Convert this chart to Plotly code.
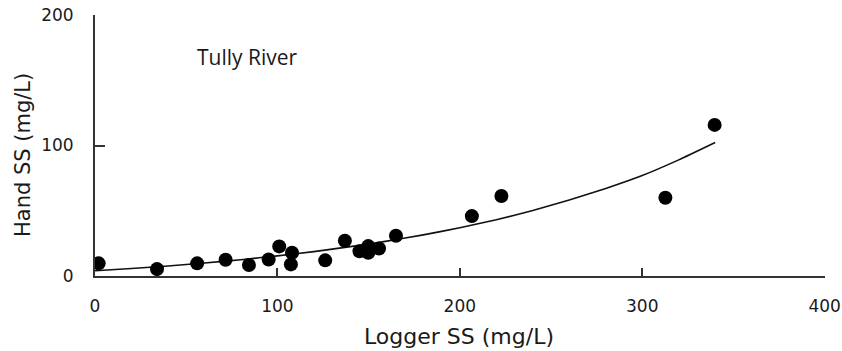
import plotly.graph_objects as go

# Observed data (Logger SS vs Hand SS, mg/L)
logger_ss = [2, 34, 56, 71.6, 84.4, 95.2, 101, 108, 107.4, 126.2, 137, 145, 149.8, 149.8,
             155.7, 165, 206.6, 222.8, 312.7, 339.7]
hand_ss = [9.7, 5.3, 9.7, 12.4, 8.4, 12.7, 22.7, 17.8, 8.9, 12, 27, 19, 22.9, 17.8,
           21.1, 30.8, 45.9, 61.3, 60, 115.8]

# Fitted trend curve
fit_x = [0, 20, 40, 60, 80, 100, 120, 140, 160, 180, 200, 220, 240, 260, 280, 300, 320, 340]
fit_y = [4.0, 5.8, 7.7, 10.0, 12.5, 15.4, 18.7, 22.5, 26.7, 31.5, 37.0, 43.1, 50.2,
         58.2, 67.1, 77.0, 89.0, 102.3]

x_ticks = [0, 100, 200, 300, 400]
y_ticks = [0, 100, 200]

axis_color = "#333333"
text_color = "#1a1a1a"
font_family = "DejaVu Sans, Liberation Sans, Arial, sans-serif"

W, H = 842, 351
L, R, T, B = 95, 17, 15, 75
PW, PH = W - L - R, H - T - B

fig = go.Figure()
fig.add_trace(go.Scatter(x=fit_x, y=fit_y, mode="lines",
                         line=dict(color="#111111", width=1.6, shape="spline", smoothing=0.5),
                         hoverinfo="skip", showlegend=False))
fig.add_trace(go.Scatter(x=logger_ss, y=hand_ss, mode="markers",
                         marker=dict(color="#000000", size=14),
                         showlegend=False))

fig.update_layout(
    width=W, height=H,
    margin=dict(l=L, r=R, t=T, b=B),
    paper_bgcolor="white", plot_bgcolor="white",
    font=dict(family=font_family, color=text_color, size=17),
    xaxis=dict(range=[0, 400.2], tickvals=x_ticks, showgrid=False, zeroline=False,
               showline=True, linecolor=axis_color, linewidth=2, automargin=False,
               ticks="inside", ticklen=8, tickwidth=1.5, tickcolor=axis_color,
               tickfont=dict(size=17, family=font_family, color=text_color),
               ticklabelstandoff=14, ticklabeloverflow="allow"),
    yaxis=dict(range=[0, 200], tickvals=y_ticks, showgrid=False, zeroline=False,
               showline=True, linecolor=axis_color, linewidth=2, automargin=False,
               ticks="inside", ticklen=10, tickwidth=1.5, tickcolor=axis_color,
               tickfont=dict(size=17, family=font_family, color=text_color),
               ticklabelstandoff=16, ticklabeloverflow="allow"),
    annotations=[
        dict(text="Tully River", x=54.8, y=168, xref="x", yref="y",
             xanchor="left", yanchor="middle", showarrow=False,
             font=dict(family="Open Sans, sans-serif", size=21, color=text_color)),
        dict(text="Logger SS (mg/L)", xref="paper", yref="paper",
             x=(459 - L) / PW, y=(H - B - 336) / PH,
             xanchor="center", yanchor="middle", showarrow=False,
             font=dict(size=22, family=font_family, color=text_color)),
        dict(text="Hand SS (mg/L)", xref="paper", yref="paper",
             x=(23 - L) / PW, y=(H - B - 155) / PH,
             xanchor="center", yanchor="middle", showarrow=False, textangle=-90,
             font=dict(size=21, family=font_family, color=text_color)),
    ],
)

fig.write_html("out.html")
